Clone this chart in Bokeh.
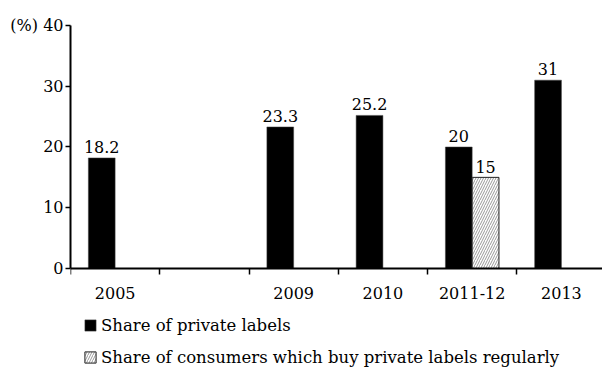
from bokeh.plotting import figure
from bokeh.models import ColumnDataSource, FixedTicker, Range1d, Legend, LegendItem, LinearAxis
from bokeh.core.properties import value
from bokeh.transform import dodge
from bokeh.embed import file_html
from bokeh.resources import INLINE

categories = ["2005", "", "2009", "2010", "2011-12", "2013"]
private_share = [18.2, None, 23.3, 25.2, 20, 31]
regular_buyers = [None, None, None, None, 15, None]
y_ticks = [0, 10, 20, 30, 40]
series_names = ["Share of private labels", "Share of consumers which buy private labels regularly"]

FONT = "DejaVu Serif"
FS = "16px"

pos = [i + 0.5 for i in range(len(categories))]
src_a = ColumnDataSource(dict(
    x=[p for p, v in zip(pos, private_share) if v is not None],
    top=[v for v in private_share if v is not None],
    lab=[("%g" % v) for v in private_share if v is not None],
))
src_b = ColumnDataSource(dict(
    x=[p for p, v in zip(pos, regular_buyers) if v is not None],
    top=[v for v in regular_buyers if v is not None],
    lab=[("%g" % v) for v in regular_buyers if v is not None],
))

# y = 0 sits 99 px above the bottom edge; the area below holds the legend
p = figure(width=602, height=367, output_backend="svg", toolbar_location=None,
           x_range=Range1d(0, 5.96), y_range=Range1d(-16.3, 40),
           min_border_left=70, min_border_right=0, min_border_top=25, min_border_bottom=0,
           x_axis_type=None, y_axis_type=None)
p.outline_line_color = None
p.xgrid.visible = False
p.ygrid.visible = False
p.background_fill_color = "white"
p.border_fill_color = "white"

ra = p.vbar(x=dodge("x", -0.15), top="top", bottom=0, width=0.3, source=src_a,
            fill_color="black", line_color="#444444", line_width=0.5)
rb = p.vbar(x=dodge("x", 0.15), top="top", bottom=0, width=0.3, source=src_b,
            fill_color="white", line_color="#222222", line_width=1,
            hatch_pattern="/", hatch_color="#999999", hatch_scale=5, hatch_weight=1)

p.text(x=dodge("x", -0.15), y="top", text="lab", source=src_a, y_offset=-5,
       text_align="center", text_baseline="bottom",
       text_font=value(FONT), text_font_size=FS, text_color="black")
p.text(x=dodge("x", 0.15), y="top", text="lab", source=src_b, y_offset=-4,
       text_align="center", text_baseline="bottom",
       text_font=value(FONT), text_font_size=FS, text_color="black")

xaxis = LinearAxis(
    ticker=FixedTicker(ticks=[pp for pp, c in zip(pos, categories) if c],
                       minor_ticks=list(range(len(categories) + 1))),
    major_label_overrides={pp: c for pp, c in zip(pos, categories) if c},
    fixed_location=0,
)
xaxis.axis_line_width = 2
xaxis.major_tick_line_color = None
xaxis.major_tick_out = 0
xaxis.major_tick_in = 0
xaxis.minor_tick_out = 6
xaxis.minor_tick_in = 0
xaxis.minor_tick_line_width = 1.5
xaxis.major_label_standoff = 13
xaxis.major_label_text_font = FONT
xaxis.major_label_text_font_size = FS
xaxis.major_label_text_color = "black"
p.add_layout(xaxis, "below")

yaxis = LinearAxis(ticker=FixedTicker(ticks=y_ticks, minor_ticks=[]),
                   major_label_overrides={40: "(%) 40"}, bounds=(0, 40))
yaxis.axis_line_width = 2
yaxis.major_tick_out = 5
yaxis.major_tick_in = 0
yaxis.major_tick_line_width = 1.5
yaxis.major_label_standoff = 2
yaxis.major_label_text_font = FONT
yaxis.major_label_text_font_size = FS
yaxis.major_label_text_color = "black"
p.add_layout(yaxis, "left")

legend = Legend(items=[LegendItem(label=series_names[0], renderers=[ra]),
                       LegendItem(label=series_names[1], renderers=[rb])],
                location=(13, 0), orientation="vertical",
                glyph_width=14, glyph_height=14, label_standoff=4, label_height=20,
                spacing=12, padding=0, margin=0, border_line_color=None,
                background_fill_alpha=0,
                label_text_font=FONT, label_text_font_size="16.5px", label_text_color="black")
p.add_layout(legend, "center")

open("out.html", "w").write(file_html(p, INLINE))
